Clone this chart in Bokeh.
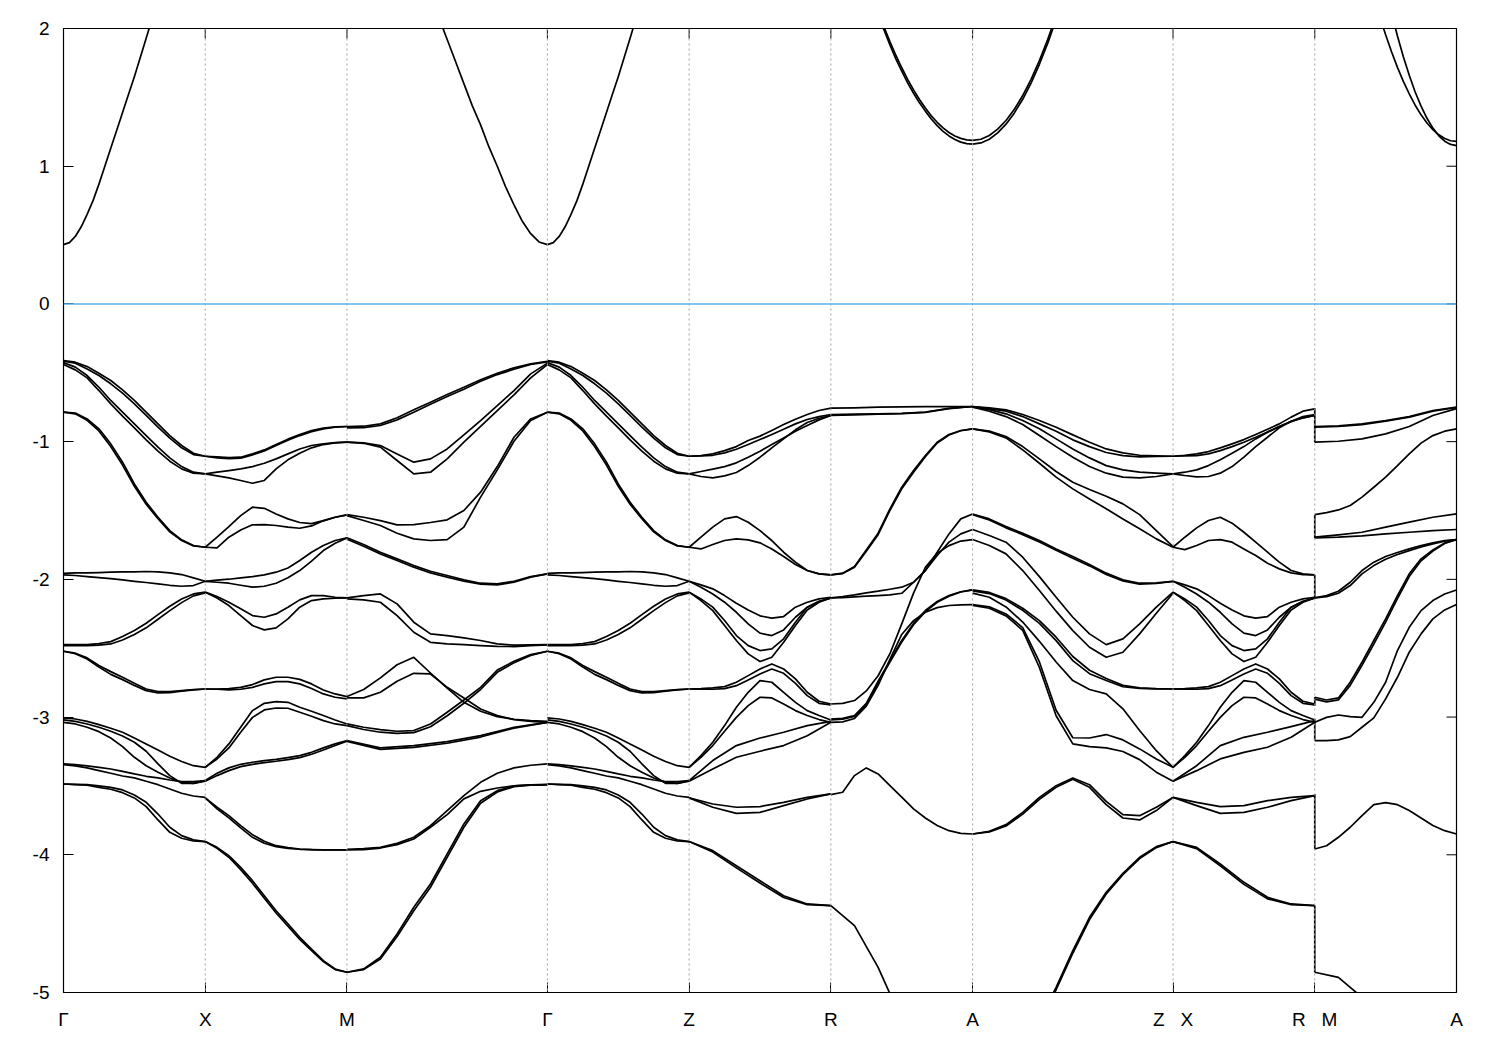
import numpy as np
from bokeh.plotting import figure
from bokeh.models import FixedTicker, Span, Range1d
from bokeh.embed import file_html
from bokeh.resources import INLINE

nan = float("nan")

# high-symmetry points along the path
kpt_pos = [0.0, 1.0, 2.0, 3.414, 4.414, 5.414, 6.414, 7.828, 8.828, 9.828]
kpt_labels = ["Γ", "X", "M", "Γ", "Z", "R", "A", "Z\u00a0\u00a0\u00a0X", "R\u00a0\u00a0\u00a0M", "A"]
y_ticks = [-5, -4, -3, -2, -1, 0, 1, 2]

# ---- valence bands: energies (eV), evenly spaced along each segment ----
GX_E = [
    [-0.411, -0.423, -0.455, -0.503, -0.556, -0.624, -0.701, -0.786, -0.871, -0.956, -1.028, -1.084, -1.106],
    [-0.416, -0.430, -0.472, -0.520, -0.580, -0.648, -0.726, -0.810, -0.895, -0.975, -1.045, -1.094, -1.106],
    [-0.426, -0.459, -0.520, -0.605, -0.701, -0.786, -0.871, -0.956, -1.040, -1.118, -1.181, -1.222, -1.234],
    [-0.440, -0.479, -0.537, -0.629, -0.726, -0.815, -0.900, -0.987, -1.069, -1.142, -1.198, -1.229, -1.234],
    [-0.786, -0.793, -0.835, -0.907, -1.016, -1.149, -1.307, -1.440, -1.549, -1.646, -1.713, -1.754, -1.767],
    [-0.786, -0.798, -0.845, -0.922, -1.035, -1.170, -1.325, -1.455, -1.560, -1.655, -1.718, -1.757, -1.767],
    [-1.956, -1.953, -1.953, -1.951, -1.948, -1.946, -1.946, -1.943, -1.946, -1.953, -1.965, -1.989, -2.014],
    [-1.968, -1.972, -1.980, -1.987, -1.994, -2.004, -2.014, -2.023, -2.033, -2.043, -2.050, -2.045, -2.014],
    [-2.474, -2.474, -2.474, -2.466, -2.452, -2.415, -2.372, -2.319, -2.256, -2.195, -2.142, -2.106, -2.093],
    [-2.481, -2.481, -2.481, -2.478, -2.469, -2.440, -2.401, -2.352, -2.290, -2.227, -2.169, -2.120, -2.098],
    [-2.522, -2.536, -2.570, -2.626, -2.670, -2.711, -2.755, -2.796, -2.815, -2.815, -2.808, -2.801, -2.796],
    [-2.522, -2.540, -2.578, -2.637, -2.690, -2.728, -2.770, -2.808, -2.825, -2.822, -2.812, -2.803, -2.796],
    [-3.006, -3.014, -3.031, -3.055, -3.081, -3.110, -3.152, -3.195, -3.239, -3.285, -3.323, -3.353, -3.365],
    [-3.021, -3.031, -3.050, -3.074, -3.103, -3.137, -3.183, -3.248, -3.340, -3.425, -3.481, -3.481, -3.461],
    [-3.038, -3.050, -3.074, -3.106, -3.152, -3.215, -3.292, -3.353, -3.401, -3.442, -3.474, -3.481, -3.466],
    [-3.340, -3.345, -3.355, -3.365, -3.377, -3.394, -3.413, -3.430, -3.442, -3.457, -3.469, -3.469, -3.461],
    [-3.345, -3.355, -3.369, -3.389, -3.408, -3.428, -3.442, -3.466, -3.491, -3.522, -3.553, -3.573, -3.583],
    [-3.486, -3.488, -3.490, -3.500, -3.510, -3.529, -3.566, -3.619, -3.704, -3.800, -3.861, -3.892, -3.904],
    [-3.486, -3.490, -3.495, -3.510, -3.524, -3.549, -3.587, -3.650, -3.747, -3.837, -3.880, -3.900, -3.904],
]

XM_E = [
    [-1.106, -1.111, -1.115, -1.113, -1.089, -1.060, -1.021, -0.982, -0.948, -0.919, -0.902, -0.893, -0.890],
    [-1.106, -1.118, -1.123, -1.120, -1.096, -1.067, -1.028, -0.990, -0.956, -0.927, -0.907, -0.895, -0.890],
    [-1.234, -1.222, -1.210, -1.198, -1.181, -1.157, -1.125, -1.089, -1.053, -1.028, -1.016, -1.007, -1.004],
    [-1.234, -1.249, -1.263, -1.282, -1.302, -1.282, -1.198, -1.132, -1.084, -1.045, -1.021, -1.009, -1.004],
    [-1.767, -1.694, -1.617, -1.537, -1.476, -1.484, -1.525, -1.561, -1.587, -1.595, -1.573, -1.549, -1.532],
    [-1.767, -1.772, -1.694, -1.641, -1.604, -1.602, -1.609, -1.621, -1.629, -1.612, -1.575, -1.549, -1.532],
    [-2.014, -2.021, -2.028, -2.043, -2.057, -2.050, -2.028, -1.989, -1.936, -1.868, -1.791, -1.738, -1.699],
    [-2.014, -2.006, -1.999, -1.989, -1.980, -1.968, -1.948, -1.917, -1.863, -1.803, -1.754, -1.718, -1.699],
    [-2.093, -2.125, -2.166, -2.214, -2.263, -2.275, -2.251, -2.202, -2.149, -2.118, -2.118, -2.130, -2.135],
    [-2.093, -2.135, -2.190, -2.263, -2.335, -2.367, -2.352, -2.287, -2.202, -2.154, -2.142, -2.137, -2.135],
    [-2.796, -2.796, -2.793, -2.784, -2.764, -2.730, -2.711, -2.711, -2.726, -2.759, -2.803, -2.832, -2.851],
    [-2.796, -2.798, -2.803, -2.798, -2.784, -2.759, -2.743, -2.743, -2.759, -2.793, -2.832, -2.856, -2.868],
    [-3.365, -3.292, -3.195, -3.074, -2.953, -2.900, -2.888, -2.893, -2.929, -2.958, -2.989, -3.021, -3.050],
    [-3.365, -3.304, -3.224, -3.110, -3.002, -2.948, -2.934, -2.936, -2.965, -2.994, -3.026, -3.050, -3.062],
    [-3.461, -3.408, -3.369, -3.343, -3.328, -3.316, -3.307, -3.294, -3.280, -3.256, -3.224, -3.195, -3.171],
    [-3.466, -3.425, -3.389, -3.360, -3.343, -3.331, -3.321, -3.309, -3.294, -3.270, -3.239, -3.207, -3.176],
    [-3.587, -3.655, -3.716, -3.788, -3.854, -3.902, -3.934, -3.948, -3.958, -3.963, -3.965, -3.965, -3.965],
    [-3.587, -3.667, -3.732, -3.805, -3.873, -3.916, -3.941, -3.953, -3.960, -3.963, -3.965, -3.965, -3.965],
    [-3.904, -3.946, -4.006, -4.091, -4.188, -4.297, -4.406, -4.502, -4.599, -4.684, -4.769, -4.829, -4.853],
    [-3.904, -3.953, -4.018, -4.108, -4.207, -4.316, -4.423, -4.519, -4.614, -4.696, -4.776, -4.834, -4.853],
]

MG_E = [
    [-0.890, -0.888, -0.871, -0.827, -0.769, -0.714, -0.658, -0.605, -0.551, -0.503, -0.464, -0.435, -0.416],
    [-0.900, -0.898, -0.883, -0.842, -0.786, -0.728, -0.672, -0.619, -0.561, -0.513, -0.474, -0.440, -0.421],
    [-1.004, -1.009, -1.028, -1.089, -1.149, -1.125, -1.053, -0.951, -0.847, -0.738, -0.629, -0.508, -0.430],
    [-1.004, -1.012, -1.040, -1.137, -1.234, -1.222, -1.125, -1.004, -0.890, -0.774, -0.660, -0.537, -0.440],
    [-1.530, -1.549, -1.573, -1.604, -1.602, -1.587, -1.568, -1.500, -1.367, -1.181, -0.968, -0.835, -0.786],
    [-1.537, -1.573, -1.609, -1.665, -1.706, -1.718, -1.711, -1.621, -1.403, -1.205, -0.997, -0.847, -0.786],
    [-1.699, -1.747, -1.803, -1.851, -1.900, -1.941, -1.972, -2.004, -2.028, -2.033, -2.014, -1.980, -1.960],
    [-1.709, -1.759, -1.815, -1.863, -1.912, -1.953, -1.984, -2.014, -2.035, -2.040, -2.021, -1.984, -1.960],
    [-2.135, -2.118, -2.106, -2.178, -2.311, -2.396, -2.408, -2.425, -2.444, -2.469, -2.478, -2.476, -2.474],
    [-2.142, -2.149, -2.166, -2.263, -2.384, -2.457, -2.469, -2.474, -2.481, -2.486, -2.488, -2.481, -2.476],
    [-2.851, -2.800, -2.715, -2.620, -2.566, -2.680, -2.790, -2.893, -2.958, -2.997, -3.016, -3.026, -3.031],
    [-2.861, -2.861, -2.820, -2.740, -2.682, -2.687, -2.784, -2.861, -2.941, -2.989, -3.018, -3.031, -3.038],
    [-3.050, -3.074, -3.091, -3.103, -3.098, -3.050, -2.965, -2.876, -2.784, -2.658, -2.595, -2.546, -2.522],
    [-3.062, -3.090, -3.110, -3.118, -3.113, -3.070, -2.990, -2.900, -2.800, -2.675, -2.605, -2.552, -2.522],
    [-3.171, -3.224, -3.207, -3.178, -3.135, -3.074, -3.038],
    [-3.176, -3.235, -3.220, -3.190, -3.145, -3.080, -3.038],
    [-3.960, -3.955, -3.946, -3.917, -3.873, -3.788, -3.679, -3.570, -3.474, -3.408, -3.369, -3.350, -3.340],
    [-3.965, -3.962, -3.951, -3.926, -3.885, -3.800, -3.708, -3.594, -3.539, -3.515, -3.500, -3.493, -3.490],
    [-4.853, -4.829, -4.744, -4.575, -4.381, -4.212, -3.994, -3.776, -3.607, -3.534, -3.500, -3.493, -3.490],
    [-4.853, -4.834, -4.757, -4.594, -4.406, -4.236, -4.018, -3.800, -3.626, -3.544, -3.505, -3.495, -3.490],
]

# the Γ–Z bands are drawn identical to the Γ–X bands in the reference
GZ_E = GX_E

ZR_E = [
    [-1.106, -1.101, -1.089, -1.065, -1.036, -0.992, -0.960, -0.919, -0.876, -0.837, -0.803, -0.774, -0.757],
    [-1.106, -1.103, -1.099, -1.082, -1.055, -1.021, -0.985, -0.948, -0.910, -0.871, -0.839, -0.818, -0.803],
    [-1.234, -1.217, -1.200, -1.181, -1.154, -1.113, -1.069, -1.021, -0.973, -0.924, -0.883, -0.842, -0.810],
    [-1.234, -1.253, -1.263, -1.249, -1.224, -1.174, -1.113, -1.045, -0.980, -0.914, -0.861, -0.830, -0.810],
    [-1.767, -1.694, -1.621, -1.561, -1.544, -1.585, -1.646, -1.718, -1.803, -1.875, -1.936, -1.960, -1.968],
    [-1.767, -1.779, -1.747, -1.718, -1.706, -1.713, -1.735, -1.779, -1.834, -1.892, -1.936, -1.960, -1.968],
    [-2.014, -2.040, -2.069, -2.118, -2.173, -2.222, -2.265, -2.282, -2.270, -2.202, -2.166, -2.142, -2.130],
    [-2.014, -2.057, -2.106, -2.166, -2.239, -2.323, -2.391, -2.408, -2.367, -2.275, -2.202, -2.161, -2.135],
    [-2.093, -2.142, -2.202, -2.299, -2.408, -2.481, -2.517, -2.505, -2.432, -2.311, -2.202, -2.159, -2.135],
    [-2.093, -2.154, -2.227, -2.335, -2.444, -2.541, -2.597, -2.566, -2.457, -2.335, -2.222, -2.166, -2.135],
    [-2.796, -2.793, -2.788, -2.779, -2.747, -2.699, -2.651, -2.614, -2.651, -2.723, -2.820, -2.885, -2.905],
    [-2.796, -2.798, -2.798, -2.793, -2.772, -2.730, -2.687, -2.651, -2.682, -2.755, -2.844, -2.900, -2.912],
    [-3.365, -3.280, -3.183, -3.062, -2.929, -2.820, -2.735, -2.747, -2.820, -2.893, -2.953, -2.989, -3.021],
    [-3.365, -3.292, -3.207, -3.103, -3.002, -2.917, -2.856, -2.861, -2.905, -2.953, -2.989, -3.018, -3.038],
    [-3.461, -3.316, -3.207, -3.152, -3.110, -3.062, -3.031],
    [-3.466, -3.377, -3.292, -3.248, -3.207, -3.135, -3.038],
    [-3.587, -3.631, -3.655, -3.650, -3.619, -3.583, -3.558],
    [-3.587, -3.655, -3.699, -3.692, -3.643, -3.595, -3.558],
    [-3.904, -3.970, -4.079, -4.188, -4.297, -4.357, -4.369],
    [-3.904, -3.980, -4.095, -4.205, -4.310, -4.362, -4.369],
]

RA_E = [
    [-0.757, -0.755, -0.750, -0.748, -0.746, -0.745, -0.745],
    [-0.803, -0.800, -0.798, -0.795, -0.785, -0.758, -0.745],
    [-0.810, -0.806, -0.800, -0.796, -0.788, -0.760, -0.745],
    [-1.968, -1.955, -1.907, -1.786, -1.665, -1.488, -1.331, -1.210, -1.101, -1.004, -0.948, -0.919, -0.907],
    [-1.968, -1.958, -1.912, -1.795, -1.676, -1.500, -1.343, -1.222, -1.110, -1.010, -0.952, -0.921, -0.907],
    [-2.135, -2.125, -2.113, -2.098, -2.086, -2.072, -2.057, -2.021, -1.936, -1.803, -1.670, -1.561, -1.525],
    [-2.135, -2.132, -2.127, -2.122, -2.118, -2.113, -2.101, -2.021, -1.936, -1.827, -1.730, -1.670, -1.638],
    [-2.905, -2.900, -2.880, -2.810, -2.700, -2.540, -2.323, -2.100, -1.912, -1.810, -1.755, -1.722, -1.711],
    [-3.014, -3.010, -2.990, -2.900, -2.740, -2.590, -2.444, -2.320, -2.226, -2.160, -2.118, -2.090, -2.077],
    [-3.021, -3.016, -2.995, -2.910, -2.750, -2.600, -2.455, -2.330, -2.235, -2.166, -2.122, -2.092, -2.077],
    [-3.038, -3.035, -3.010, -2.920, -2.770, -2.580, -2.400, -2.300, -2.239, -2.205, -2.190, -2.185, -2.183],
    [-3.563, -3.546, -3.425, -3.369, -3.413, -3.498, -3.582, -3.667, -3.733, -3.788, -3.825, -3.844, -3.849],
    [-4.369, -4.514, -4.817, -5.200, nan, nan, nan],
]

AZ_E = [
    [-0.745, -0.755, -0.769, -0.803, -0.847, -0.895, -0.951, -1.004, -1.053, -1.082, -1.099, -1.103, -1.106],
    [-0.745, -0.760, -0.779, -0.818, -0.871, -0.924, -0.987, -1.036, -1.079, -1.101, -1.111, -1.108, -1.106],
    [-0.747, -0.767, -0.798, -0.847, -0.907, -0.980, -1.053, -1.118, -1.174, -1.205, -1.222, -1.229, -1.234],
    [-0.750, -0.779, -0.818, -0.876, -0.956, -1.036, -1.113, -1.181, -1.229, -1.258, -1.263, -1.253, -1.234],
    [-0.907, -0.924, -0.963, -1.036, -1.125, -1.217, -1.295, -1.348, -1.396, -1.452, -1.530, -1.646, -1.762],
    [-0.907, -0.929, -0.973, -1.060, -1.157, -1.258, -1.343, -1.416, -1.488, -1.561, -1.633, -1.706, -1.767],
    [-1.525, -1.561, -1.617, -1.665, -1.718, -1.779, -1.834, -1.892, -1.955, -2.004, -2.028, -2.026, -2.014],
    [-1.530, -1.568, -1.626, -1.675, -1.728, -1.789, -1.846, -1.902, -1.965, -2.012, -2.035, -2.030, -2.014],
    [-1.638, -1.682, -1.730, -1.839, -1.980, -2.130, -2.275, -2.396, -2.474, -2.432, -2.323, -2.202, -2.093],
    [-1.711, -1.754, -1.815, -1.936, -2.081, -2.231, -2.372, -2.493, -2.566, -2.529, -2.396, -2.246, -2.101],
    [-2.077, -2.095, -2.140, -2.210, -2.300, -2.420, -2.560, -2.660, -2.720, -2.770, -2.788, -2.794, -2.796],
    [-2.083, -2.103, -2.150, -2.225, -2.320, -2.445, -2.590, -2.685, -2.735, -2.780, -2.792, -2.796, -2.796],
    [-2.100, -2.130, -2.200, -2.310, -2.450, -2.600, -2.735, -2.800, -2.832, -2.940, -3.098, -3.244, -3.365],
    [-2.183, -2.200, -2.251, -2.350, -2.600, -2.950, -3.150, -3.152, -3.127, -3.166, -3.231, -3.304, -3.365],
    [-2.190, -2.210, -2.265, -2.370, -2.640, -2.990, -3.195, -3.214, -3.224, -3.250, -3.309, -3.400, -3.466],
    [-3.849, -3.830, -3.781, -3.692, -3.583, -3.498, -3.442, -3.491, -3.612, -3.708, -3.716, -3.655, -3.583],
    [-3.849, -3.834, -3.791, -3.704, -3.597, -3.510, -3.452, -3.510, -3.636, -3.733, -3.747, -3.679, -3.583],
    [nan, nan, nan, nan, -5.200, -4.962, -4.696, -4.454, -4.272, -4.134, -4.018, -3.941, -3.904],
    [nan, nan, nan, nan, -5.220, -4.980, -4.715, -4.470, -4.285, -4.145, -4.028, -3.948, -3.904],
]

XR_E = [
    [-1.106, -1.099, -1.089, -1.072, -1.045, -1.016, -0.985, -0.948, -0.910, -0.871, -0.822, -0.779, -0.762],
    [-1.106, -1.103, -1.101, -1.089, -1.065, -1.036, -1.004, -0.968, -0.931, -0.890, -0.852, -0.818, -0.803],
    [-1.234, -1.222, -1.205, -1.174, -1.132, -1.084, -1.036, -0.980, -0.931, -0.890, -0.856, -0.827, -0.810],
    [-1.234, -1.246, -1.256, -1.253, -1.229, -1.181, -1.113, -1.036, -0.968, -0.900, -0.852, -0.827, -0.810],
    [-1.767, -1.694, -1.626, -1.573, -1.549, -1.592, -1.658, -1.730, -1.803, -1.875, -1.936, -1.960, -1.968],
    [-1.767, -1.784, -1.754, -1.718, -1.711, -1.730, -1.779, -1.827, -1.883, -1.924, -1.953, -1.965, -1.968],
    [-2.014, -2.040, -2.069, -2.118, -2.173, -2.222, -2.265, -2.282, -2.270, -2.202, -2.166, -2.142, -2.130],
    [-2.014, -2.057, -2.106, -2.166, -2.239, -2.323, -2.391, -2.408, -2.367, -2.275, -2.202, -2.161, -2.135],
    [-2.093, -2.142, -2.202, -2.299, -2.408, -2.481, -2.517, -2.505, -2.432, -2.311, -2.202, -2.159, -2.135],
    [-2.093, -2.154, -2.227, -2.335, -2.444, -2.541, -2.597, -2.566, -2.457, -2.335, -2.222, -2.166, -2.135],
    [-2.796, -2.793, -2.788, -2.779, -2.747, -2.699, -2.651, -2.614, -2.651, -2.723, -2.820, -2.885, -2.905],
    [-2.796, -2.798, -2.798, -2.793, -2.772, -2.730, -2.687, -2.651, -2.682, -2.755, -2.844, -2.900, -2.912],
    [-3.365, -3.280, -3.183, -3.062, -2.929, -2.820, -2.735, -2.747, -2.820, -2.893, -2.953, -2.989, -3.021],
    [-3.365, -3.292, -3.207, -3.103, -3.002, -2.917, -2.856, -2.861, -2.905, -2.953, -2.989, -3.018, -3.038],
    [-3.466, -3.353, -3.207, -3.147, -3.110, -3.069, -3.026],
    [-3.466, -3.389, -3.304, -3.256, -3.219, -3.147, -3.038],
    [-3.583, -3.619, -3.650, -3.643, -3.607, -3.583, -3.570],
    [-3.583, -3.643, -3.699, -3.692, -3.655, -3.607, -3.570],
    [-3.904, -3.946, -4.067, -4.200, -4.309, -4.357, -4.369],
    [-3.904, -3.955, -4.080, -4.215, -4.320, -4.362, -4.369],
]

MA_E = [
    [-0.890, -0.885, -0.871, -0.847, -0.818, -0.774, -0.750],
    [-0.895, -0.890, -0.876, -0.852, -0.822, -0.779, -0.752],
    [-1.004, -0.997, -0.980, -0.944, -0.890, -0.810, -0.760],
    [-1.530, -1.515, -1.496, -1.464, -1.403, -1.331, -1.258, -1.174, -1.089, -1.011, -0.956, -0.924, -0.907],
    [-1.694, -1.677, -1.658, -1.621, -1.585, -1.549, -1.525],
    [-1.699, -1.694, -1.684, -1.670, -1.658, -1.646, -1.638],
    [-2.135, -2.118, -2.086, -2.021, -1.936, -1.875, -1.834, -1.805, -1.779, -1.754, -1.735, -1.718, -1.711],
    [-2.135, -2.125, -2.101, -2.045, -1.960, -1.900, -1.854, -1.820, -1.791, -1.764, -1.742, -1.723, -1.711],
    [-2.856, -2.876, -2.861, -2.747, -2.602, -2.444, -2.287, -2.118, -1.960, -1.851, -1.786, -1.735, -1.711],
    [-2.870, -2.890, -2.875, -2.770, -2.625, -2.470, -2.310, -2.140, -1.980, -1.865, -1.795, -1.740, -1.711],
    [-3.038, -3.002, -2.985, -2.997, -3.002, -2.893, -2.747, -2.517, -2.348, -2.227, -2.154, -2.106, -2.077],
    [-3.171, -3.171, -3.166, -3.142, -3.074, -3.006, -2.868, -2.711, -2.529, -2.396, -2.287, -2.222, -2.183],
    [-3.958, -3.934, -3.873, -3.800, -3.716, -3.636, -3.621, -3.636, -3.679, -3.733, -3.788, -3.825, -3.849],
    [-4.853, -4.890, -5.035, nan, nan, nan, nan],
]

# ---- conduction bands (25 samples per segment; nan = above the plotted range) ----
GX_C = [[0.431, 0.445, 0.49, 0.56, 0.65, 0.75, 0.87, 1.00, 1.13, 1.26, 1.39, 1.52, 1.65,
         1.79, 1.93, 2.07] + [nan] * 9]
MG_C = [[nan] * 11 + [2.08, 1.92, 1.76, 1.60, 1.44, 1.30, 1.14, 1.00, 0.85, 0.72, 0.60,
                      0.51, 0.45, 0.431]]
GZ_C = [[0.431, 0.445, 0.49, 0.56, 0.65, 0.75, 0.87, 1.00, 1.13, 1.26, 1.39, 1.52, 1.65,
         1.79, 1.93, 2.07] + [nan] * 9]
RA_C = [[nan] * 8 + [2.125, 2.011, 1.905, 1.806, 1.715, 1.631, 1.554, 1.484, 1.422, 1.366,
                     1.319, 1.278, 1.245, 1.220, 1.202, 1.191, 1.187],
        [nan] * 8 + [2.10, 1.99, 1.88, 1.78, 1.69, 1.605, 1.53, 1.46, 1.40, 1.343,
                     1.295, 1.253, 1.220, 1.194, 1.175, 1.164, 1.160]]
AZ_C = [[1.187, 1.196, 1.223, 1.269, 1.332, 1.414, 1.513, 1.631, 1.767, 1.921, 2.093] + [nan] * 14,
        [1.160, 1.169, 1.196, 1.242, 1.305, 1.387, 1.486, 1.604, 1.740, 1.894, 2.066] + [nan] * 14]
MA_C = [[nan] * 10 + [2.233, 2.088, 1.954, 1.831, 1.718, 1.616, 1.525, 1.443, 1.373, 1.314,
                      1.266, 1.228, 1.201, 1.185, 1.180],
        [nan] * 12 + [2.296, 2.113, 1.946, 1.795, 1.660, 1.539, 1.436, 1.348, 1.277, 1.221,
                      1.182, 1.158, 1.150]]

# band jumps at the R|M discontinuity (low, high)
jump_lo = [-1.004, -1.699, -2.135, -2.917, -3.171, -3.958, -4.853]
jump_hi = [-0.757, -1.530, -1.968, -2.856, -3.013, -3.558, -4.369]

segments = [
    (0, GX_E + GX_C), (1, XM_E), (2, MG_E + MG_C), (3, GZ_E + GZ_C),
    (4, ZR_E), (5, RA_E + RA_C), (6, AZ_E + AZ_C), (7, XR_E), (8, MA_E + MA_C),
]

xs, ys = [], []
for i, curves in segments:
    k0, k1 = kpt_pos[i], kpt_pos[i + 1]
    for c in curves:
        e = np.array(c, dtype=float)
        k = np.linspace(k0, k1, len(e))
        m = ~np.isnan(e)
        xs.append(k[m].tolist())
        ys.append(e[m].tolist())

FONT = "Liberation Sans"

p = figure(frame_width=1393, frame_height=964,
           x_range=Range1d(kpt_pos[0], kpt_pos[-1]), y_range=Range1d(-5, 2),
           output_backend="svg", toolbar_location=None,
           min_border_left=63, min_border_right=30, min_border_top=28, min_border_bottom=50)
p.background_fill_color = "white"
p.border_fill_color = "white"
p.outline_line_color = "black"
p.outline_line_width = 1.2
p.xgrid.visible = False
p.ygrid.visible = False

# dotted vertical lines at interior symmetry points
for kx in kpt_pos[1:-1]:
    p.add_layout(Span(location=kx, dimension="height", line_color="#a0a0a0",
                      line_width=1, line_dash="2 3"))

# Fermi level
p.add_layout(Span(location=0, dimension="width", line_color="#56b4e9", line_width=1.5))

p.multi_line(xs, ys, line_color="black", line_width=1.7, line_join="round")
p.segment(x0=[kpt_pos[8]] * len(jump_lo), y0=jump_lo,
          x1=[kpt_pos[8]] * len(jump_hi), y1=jump_hi,
          line_color="black", line_width=1.7)

# mirrored inward ticks on the right and top frame edges
p.ray(x=[kpt_pos[-1]] * len(y_ticks), y=y_ticks, length=10, length_units="screen",
      angle=np.pi, line_color="black", line_width=1)
p.ray(x=kpt_pos, y=[2] * len(kpt_pos), length=10, length_units="screen",
      angle=-np.pi / 2, line_color="black", line_width=1)

# axes
xa = p.xaxis[0]
xa.ticker = FixedTicker(ticks=kpt_pos)
xa.major_label_overrides = {k: lab for k, lab in zip(kpt_pos, kpt_labels)}
ya = p.yaxis[0]
ya.ticker = FixedTicker(ticks=y_ticks)
ya.major_label_overrides = {v: str(v) for v in y_ticks}
for ax in (xa, ya):
    ax.axis_line_color = None
    ax.major_tick_in = 10
    ax.major_tick_out = 0
    ax.minor_tick_line_color = None
    ax.major_tick_line_color = "black"
    ax.major_label_text_font = FONT
    ax.major_label_text_font_size = "19px"
    ax.major_label_text_color = "black"
xa.major_label_standoff = 16
ya.major_label_standoff = 14

open("out.html", "w").write(file_html(p, INLINE))
